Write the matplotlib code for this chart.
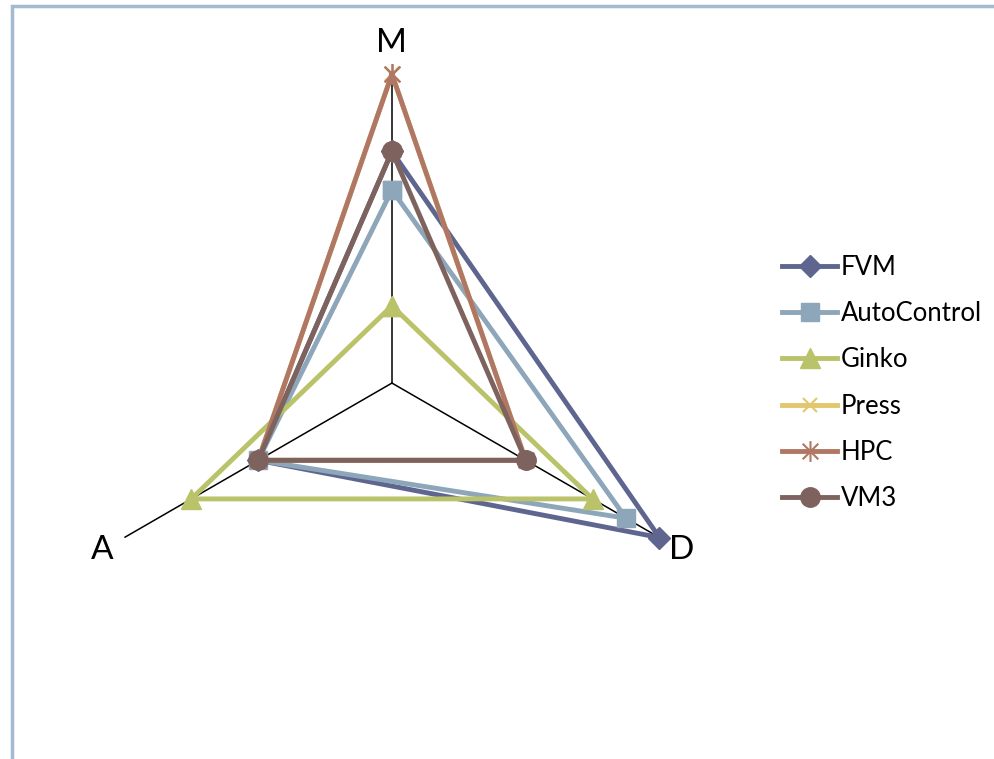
import numpy as np
import matplotlib
matplotlib.use("Agg")
import matplotlib.pyplot as plt
from matplotlib.path import Path
from matplotlib.patches import Rectangle

axes_labels = ["M", "D", "A"]
series_names = ["FVM", "AutoControl", "Ginko", "Press", "HPC", "VM3"]
FVM = [3, 4, 2]
AutoControl = [2.5, 3.5, 2]
Ginko = [1, 3, 3]
Press = [4, 2, 2]
HPC = [4, 2, 2]
VM3 = [3, 2, 2]
values = [FVM, AutoControl, Ginko, Press, HPC, VM3]

colors = ["#5E668F", "#8DA6BA", "#BAC26A", "#E2C76C", "#B07864", "#7E625E"]
star = Path([(0, -1), (0, 1), (-0.75, -0.75), (0.75, 0.75), (-0.75, 0.75), (0.75, -0.75)],
            [Path.MOVETO, Path.LINETO, Path.MOVETO, Path.LINETO, Path.MOVETO, Path.LINETO])
markers = ["D", "s", "^", "x", star, "o"]
msizes = [11, 13, 14, 10, 15, 14]
label_r = [4.40, 4.33, 4.33]

plt.rcParams['font.family'] = ['Lato', 'DejaVu Sans']

fig = plt.figure(figsize=(9.95, 7.59), dpi=100)
ax = fig.add_axes([0.0834, 0.0883, 0.621, 0.814], projection='polar')
ax.set_theta_zero_location('N')
ax.set_theta_direction(-1)
ax.set_ylim(0, 4)
ax.grid(False)
ax.spines['polar'].set_visible(False)
ax.set_xticks([])
ax.set_yticks([])
ax.patch.set_alpha(0)

angles = np.deg2rad([0, 120, 240])
for a, lab, lr in zip(angles, axes_labels, label_r):
    ax.plot([a, a], [0, 4], color='black', lw=1.1, zorder=1)
    ax.text(a, lr, lab, ha='center', va='center', fontsize=24, color='black')

for name, vals, c, m, ms in zip(series_names, values, colors, markers, msizes):
    th = np.concatenate([angles, angles[:1]])
    r = np.concatenate([vals, vals[:1]])
    ax.plot(th, r, color=c, lw=3.5, marker=m, markersize=ms, markeredgecolor=c,
            markeredgewidth=1.5 if (m is star or m == "x") else 1, label=name,
            clip_on=False, zorder=3)

leg = fig.legend(loc='center left', bbox_to_anchor=(782/995, 1-383/759), frameon=False,
                 fontsize=18.5, handlelength=2.15, handletextpad=0.15, labelspacing=0.82,
                 borderpad=0, borderaxespad=0)

fig.patches.append(Rectangle((12/995, -0.2), 1.2, 1.2 - 6/759, transform=fig.transFigure,
                             fill=False, edgecolor='#A3BAD1', lw=2.5, zorder=0))

fig.savefig("out.png", dpi=100)
